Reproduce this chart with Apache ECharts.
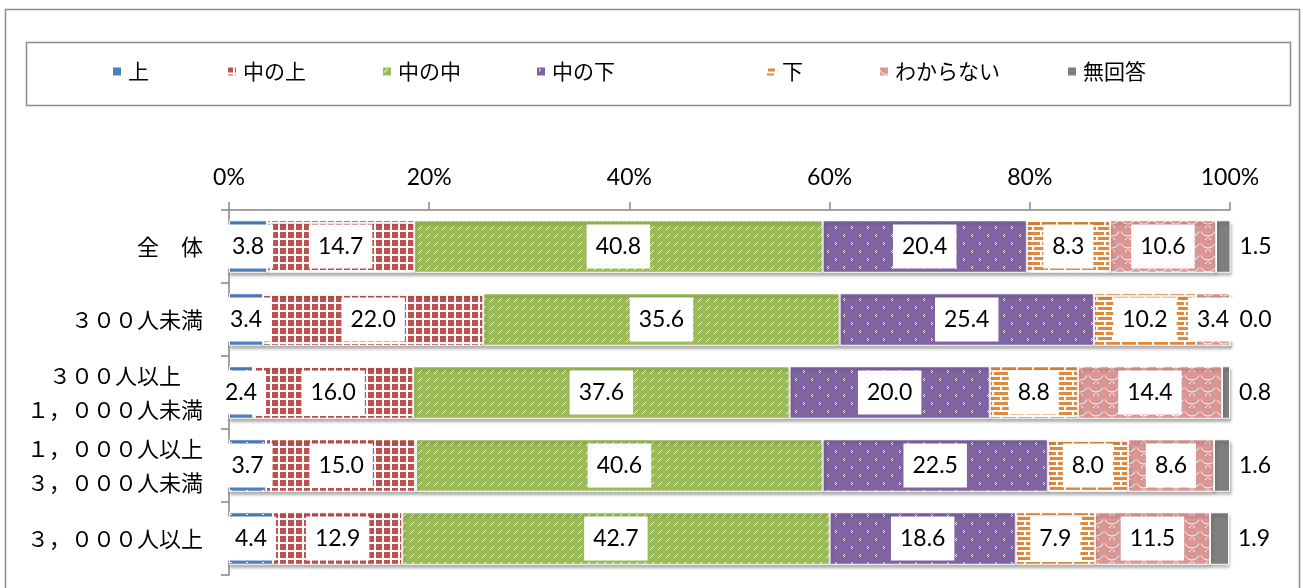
<!DOCTYPE html>
<html>
<head>
<meta charset="utf-8">
<script src="https://cdn.jsdelivr.net/npm/echarts@6/dist/echarts.min.js"></script>
<style>
html,body{margin:0;padding:0;background:#fff;}
#chart{width:1303px;height:588px;}
</style>
</head>
<body>
<div id="chart"></div>
<script>
// ---- data ----
var categories = ['全　体', '３００人未満', '３００人以上\n１，０００人未満', '１，０００人以上\n３，０００人未満', '３，０００人以上'];
var seriesNames = ['上', '中の上', '中の中', '中の下', '下', 'わからない', '無回答'];
var ue        = [3.8, 3.4, 2.4, 3.7, 4.4];
var nakaUe    = [14.7, 22.0, 16.0, 15.0, 12.9];
var nakaNaka  = [40.8, 35.6, 37.6, 40.6, 42.7];
var nakaShita = [20.4, 25.4, 20.0, 22.5, 18.6];
var shita     = [8.3, 10.2, 8.8, 8.0, 7.9];
var wakaranai = [10.6, 3.4, 14.4, 8.6, 11.5];
var muKaito   = [1.5, 0.0, 0.8, 1.6, 1.9];
var xTickMax = 100, xTickStep = 20;

// ---- patterns ----
function pat(w, h, bg, draw) {
  var c = document.createElement('canvas');
  c.width = w; c.height = h;
  var g = c.getContext('2d');
  g.fillStyle = bg; g.fillRect(0, 0, w, h);
  g.fillStyle = '#fff'; g.strokeStyle = '#fff'; g.lineWidth = 1;
  draw(g);
  return { image: c, repeat: 'repeat' };
}
var BLUE = '#4F81BD', RED = '#C0504D', GREEN = '#9BBB59', PURPLE = '#8064A2', ORANGE = '#E0883C', PINK = '#D99694', GRAY = '#7F7F7F';
var patterns = [
  pat(16, 12, BLUE, function (g) { g.fillRect(6, 10, 2, 1); }),
  pat(8, 8, '#fff', function (g) { g.fillStyle = RED; g.fillRect(0, 0, 6, 6); }),
  pat(8, 8, GREEN, function (g) { g.fillRect(2, 5, 1, 1); g.fillRect(3, 4, 1, 1); g.fillRect(4, 3, 1, 1); g.fillRect(5, 2, 1, 1); }),
  pat(16, 16, PURPLE, function (g) {
    g.fillRect(3, 2, 1, 1); g.fillRect(4, 3, 1, 1); g.fillRect(3, 4, 1, 1);
    g.fillRect(12, 10, 1, 1); g.fillRect(11, 11, 1, 1); g.fillRect(12, 12, 1, 1);
  }),
  pat(16, 10, ORANGE, function (g) {
    g.fillRect(0, 0, 16, 2);
    g.fillRect(0, 5, 16, 2);
    g.fillRect(0, 0, 2, 5);
    g.fillRect(8, 5, 2, 5);
  }),
  pat(16, 12, PINK, function (g) {
    g.beginPath(); g.arc(8, 0, 8, 0.15 * Math.PI, 0.85 * Math.PI); g.stroke();
    g.beginPath(); g.arc(0, 6, 8, 0.15 * Math.PI, 0.85 * Math.PI); g.stroke();
    g.beginPath(); g.arc(16, 6, 8, 0.15 * Math.PI, 0.85 * Math.PI); g.stroke();
  }),
  GRAY
];
var seriesData = [ue, nakaUe, nakaNaka, nakaShita, shita, wakaranai, muKaito];

var numFont = 'Lato, Carlito, "Liberation Sans", sans-serif';
var jpFont = '"Noto Sans CJK JP", sans-serif';

var series = seriesNames.map(function (name, i) {
  var last = i === seriesNames.length - 1;
  return {
    name: name,
    type: 'bar',
    stack: 'all',
    barWidth: '72%',
    data: seriesData[i],
    itemStyle: {
      color: patterns[i],
      borderColor: '#fff',
      borderWidth: 1,
      shadowColor: 'rgba(0,0,0,0.3)',
      shadowBlur: 3,
      shadowOffsetY: 3,
      shadowOffsetX: 1
    },
    label: last ? {
      show: true, position: 'right', distance: 9,
      color: '#000', fontSize: 23, fontFamily: numFont,
      formatter: function (p) { return p.value.toFixed(1); }
    } : {
      show: true, position: 'inside',
      color: '#000', fontSize: 23, fontFamily: numFont,
      backgroundColor: '#fff', padding: [10, 9], lineHeight: 24,
      formatter: function (p) { return p.value.toFixed(1); }
    },
    emphasis: { disabled: true }
  };
});

var legendX = [111, 226, 381, 535, 765, 878, 1066];
var legends = seriesNames.map(function (n, i) {
  return {
    data: [n], left: legendX[i], top: 61, padding: 0,
    itemWidth: 10, itemHeight: 10, itemGap: 0,
    icon: 'rect',
    textStyle: { fontSize: 21, color: '#000', fontFamily: jpFont, padding: [0, 0, 0, 1] },
    selectedMode: false
  };
});

var chart = echarts.init(document.getElementById('chart'), null, { renderer: 'canvas' });
chart.setOption({
  animation: false,
  backgroundColor: '#fff',
  graphic: [
    { type: 'rect', shape: { x: 5.5, y: 9.5, width: 1294, height: 600 }, style: { fill: 'none', stroke: '#8c8c8c', lineWidth: 1.5 }, silent: true },
    { type: 'rect', shape: { x: 26.5, y: 42.5, width: 1264, height: 63 }, style: { fill: 'none', stroke: '#8c8c8c', lineWidth: 1.5 }, silent: true }
  ],
  legend: legends,
  grid: { left: 229, right: 73, top: 210, bottom: 13, containLabel: false },
  xAxis: {
    type: 'value', position: 'top', min: 0, max: xTickMax, interval: xTickStep,
    axisLine: { show: true, lineStyle: { color: '#868686', width: 1.5 } },
    axisTick: { show: true, length: 8, lineStyle: { color: '#868686', width: 1.5 } },
    splitLine: { show: false },
    axisLabel: { formatter: '{value}%', fontSize: 23, color: '#000', fontFamily: numFont, margin: 21 }
  },
  yAxis: {
    type: 'category', inverse: true, data: categories,
    axisLine: { show: true, lineStyle: { color: '#868686', width: 1.5 } },
    axisTick: { show: true, length: 8, lineStyle: { color: '#868686', width: 1.5 } },
    axisLabel: {
      margin: 26, color: '#000',
      formatter: function (v) { return v.split('\n').map(function (l) { return '{c|' + l + '}'; }).join('\n'); },
      rich: { c: { align: 'center', fontSize: 22, lineHeight: 34, fontFamily: jpFont, color: '#000' } }
    }
  },
  series: series
});
</script>
</body>
</html>
